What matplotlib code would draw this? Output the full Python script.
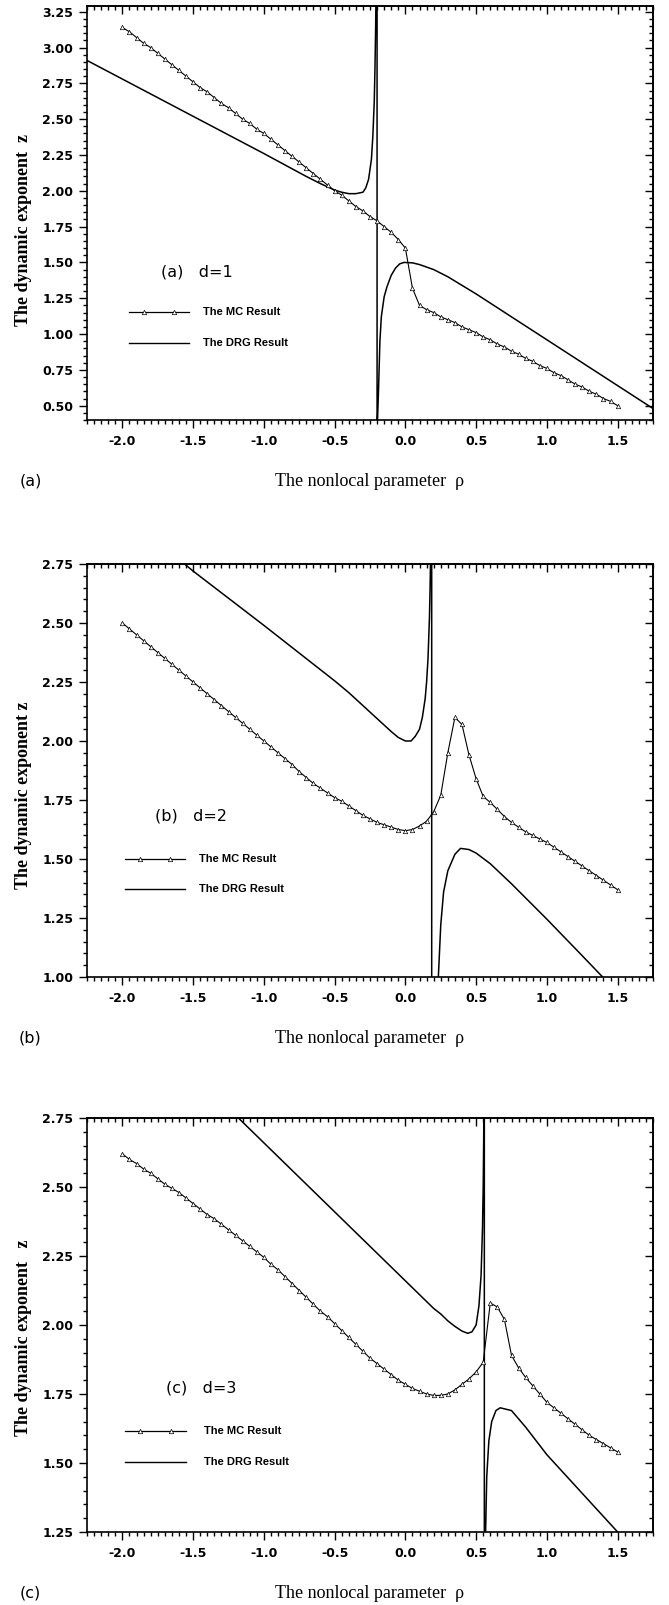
import numpy as np
import matplotlib
matplotlib.use('Agg')
import matplotlib.pyplot as plt
from matplotlib.ticker import MultipleLocator, FormatStrFormatter, NullFormatter

plt.rcParams['axes.unicode_minus'] = False

# nonlocal parameter rho of the MC points
rho = np.round(np.arange(-2.0, 1.5001, 0.05), 2)

# MC results, one value per rho
mc_a = [3.14, 3.11, 3.07, 3.03, 3.00, 2.96, 2.92, 2.88, 2.84, 2.80,
        2.76, 2.72, 2.69, 2.65, 2.61, 2.58, 2.54, 2.50, 2.47, 2.43,
        2.40, 2.36, 2.32, 2.28, 2.24, 2.20, 2.16, 2.12, 2.08, 2.04,
        2.00, 1.97, 1.93, 1.89, 1.86, 1.82, 1.79, 1.75, 1.71, 1.66,
        1.60, 1.32, 1.20, 1.17, 1.15, 1.12, 1.10, 1.08, 1.05, 1.03,
        1.01, 0.98, 0.96, 0.93, 0.91, 0.88, 0.86, 0.83, 0.81, 0.78,
        0.76, 0.73, 0.71, 0.68, 0.65, 0.63, 0.60, 0.58, 0.55, 0.53,
        0.50]
mc_b = [2.50, 2.475, 2.45, 2.425, 2.40, 2.375, 2.35, 2.325, 2.30, 2.275,
        2.25, 2.225, 2.20, 2.175, 2.15, 2.125, 2.10, 2.075, 2.05, 2.025,
        2.00, 1.975, 1.95, 1.925, 1.90, 1.87, 1.845, 1.82, 1.80, 1.78,
        1.76, 1.745, 1.725, 1.705, 1.685, 1.67, 1.655, 1.645, 1.635, 1.625,
        1.62, 1.625, 1.64, 1.66, 1.70, 1.77, 1.95, 2.10, 2.07, 1.94,
        1.84, 1.765, 1.74, 1.71, 1.68, 1.655, 1.635, 1.615, 1.60, 1.585,
        1.57, 1.55, 1.53, 1.51, 1.49, 1.47, 1.45, 1.43, 1.41, 1.39,
        1.37]
mc_c = [2.62, 2.60, 2.585, 2.565, 2.55, 2.53, 2.51, 2.495, 2.48, 2.46,
        2.44, 2.42, 2.40, 2.385, 2.365, 2.345, 2.325, 2.305, 2.285, 2.265,
        2.245, 2.22, 2.20, 2.175, 2.15, 2.125, 2.10, 2.075, 2.05, 2.03,
        2.005, 1.98, 1.955, 1.93, 1.905, 1.88, 1.86, 1.84, 1.82, 1.80,
        1.785, 1.77, 1.76, 1.75, 1.745, 1.745, 1.75, 1.765, 1.785, 1.805,
        1.83, 1.865, 2.08, 2.065, 2.02, 1.89, 1.845, 1.81, 1.78, 1.75,
        1.72, 1.70, 1.68, 1.66, 1.64, 1.62, 1.60, 1.585, 1.57, 1.555,
        1.54]

# DRG results (the curve jumps through its pole)
drg_x_a = [-2.25, -2.0, -1.5, -1.0, -0.7, -0.6, -0.5, -0.45, -0.4, -0.35,
           -0.3, -0.28, -0.26, -0.24, -0.23, -0.22, -0.215, -0.21, -0.206,
           -0.2, -0.2, -0.197, -0.19, -0.18, -0.17, -0.15, -0.13, -0.10, -0.07,
           -0.04, -0.01, 0.05, 0.1, 0.2, 0.3, 0.4, 0.5, 0.75, 1.0, 1.25, 1.5, 1.75]
drg_y_a = [2.91, 2.78, 2.52, 2.26, 2.10, 2.05, 2.005, 1.99, 1.98, 1.98,
           1.99, 2.02, 2.08, 2.22, 2.38, 2.62, 2.85, 3.15, 3.5,
           3.5, 0.2, 0.4, 0.6, 0.95, 1.12, 1.26, 1.33, 1.41, 1.46,
           1.49, 1.50, 1.497, 1.485, 1.45, 1.40, 1.34, 1.28, 1.12, 0.96, 0.80, 0.64, 0.48]
drg_x_b = [-1.60, -1.5, -1.0, -0.5, -0.4, -0.3, -0.2, -0.1, -0.05, 0.0,
           0.04, 0.07, 0.10, 0.12, 0.14, 0.15, 0.16, 0.17, 0.175, 0.18,
           0.186, 0.186, 0.20, 0.22, 0.233, 0.25, 0.27, 0.30, 0.35, 0.39,
           0.45, 0.5, 0.6, 0.75, 1.0, 1.25, 1.41]
drg_y_b = [2.77, 2.72, 2.49, 2.255, 2.205, 2.15, 2.095, 2.04, 2.015, 2.00,
           2.00, 2.02, 2.05, 2.10, 2.18, 2.25, 2.35, 2.52, 2.66, 2.85,
           2.85, 0.8, 0.85, 0.95, 1.0, 1.22, 1.36, 1.45, 1.52, 1.545,
           1.54, 1.525, 1.48, 1.395, 1.245, 1.09, 0.99]
drg_x_c = [-1.20, -1.0, -0.5, 0.0, 0.2, 0.25, 0.3, 0.35, 0.4, 0.44,
           0.47, 0.50, 0.52, 0.535, 0.545, 0.55, 0.553, 0.556, 0.558, 0.558,
           0.567, 0.575, 0.59, 0.61, 0.64, 0.67, 0.75, 0.85, 1.0, 1.25, 1.5]
drg_y_c = [2.76, 2.66, 2.41, 2.16, 2.06, 2.04, 2.015, 1.995, 1.978, 1.97,
           1.975, 2.00, 2.07, 2.18, 2.35, 2.5, 2.65, 2.85, 2.85, 1.1,
           1.25, 1.45, 1.58, 1.65, 1.69, 1.70, 1.69, 1.63, 1.53, 1.39, 1.25]

panels = [
    dict(mc=mc_a, dx=drg_x_a, dy=drg_y_a, ylim=(0.40, 3.29), top=6, bottom=420,
         tag='(a)', note='(a)   d=1', note_xy=(-1.73, 1.43),
         leg_x=(-1.95, -1.53, -1.43), leg_y=(1.155, 0.94),
         ylabel='The dynamic exponent  z', ylab_y=0.46),
    dict(mc=mc_b, dx=drg_x_b, dy=drg_y_b, ylim=(1.0, 2.75), top=564, bottom=977,
         tag='(b)', note='(b)   d=2', note_xy=(-1.77, 1.684),
         leg_x=(-1.98, -1.56, -1.46), leg_y=(1.502, 1.371),
         ylabel='The dynamic exponent z', ylab_y=0.44),
    dict(mc=mc_c, dx=drg_x_c, dy=drg_y_c, ylim=(1.25, 2.75), top=1118, bottom=1532,
         tag='(c)', note='(c)   d=3', note_xy=(-1.69, 1.772),
         leg_x=(-1.98, -1.55, -1.42), leg_y=(1.617, 1.502),
         ylabel='The dynamic exponent   z', ylab_y=0.47),
]

W, H = 669, 1605
fig = plt.figure(figsize=(W / 100, H / 100), dpi=100)

tick_font = dict(family='DejaVu Sans', weight='bold', size=9)
leg_font = dict(family='Liberation Sans', weight='bold', size=8)

for p in panels:
    ax = fig.add_axes([87 / W, 1 - p['bottom'] / H, 566 / W, (p['bottom'] - p['top']) / H])

    ax.plot(p['dx'], p['dy'], color='black', lw=1.1)
    ax.plot(rho, p['mc'], color='black', lw=0.8, marker='^', ms=3.2,
            mfc='white', mec='black', mew=0.5)

    ax.set_xlim(-2.25, 1.75)
    ax.set_ylim(*p['ylim'])

    ax.xaxis.set_major_locator(MultipleLocator(0.5))
    ax.xaxis.set_minor_locator(MultipleLocator(0.05))
    ax.yaxis.set_major_locator(MultipleLocator(0.25))
    ax.yaxis.set_minor_locator(MultipleLocator(0.05))
    ax.xaxis.set_major_formatter(FormatStrFormatter('%.1f'))
    ax.yaxis.set_major_formatter(FormatStrFormatter('%.2f'))
    ax.tick_params(which='both', direction='out', width=1.0, top=False, right=False)
    ax.tick_params(which='major', length=5.8)
    ax.tick_params(which='minor', length=3.2)
    ax.tick_params(axis='x', pad=5)
    ax.tick_params(axis='y', pad=4)
    for lab in ax.get_xticklabels() + ax.get_yticklabels():
        lab.set_fontfamily(tick_font['family'])
        lab.set_fontweight(tick_font['weight'])
        lab.set_fontsize(tick_font['size'])
    for s in ax.spines.values():
        s.set_linewidth(1.2)

    # inward ticks on top and right
    sx = ax.secondary_xaxis('top')
    sx.xaxis.set_major_locator(MultipleLocator(0.5))
    sx.xaxis.set_minor_locator(MultipleLocator(0.05))
    sx.xaxis.set_major_formatter(NullFormatter())
    sx.tick_params(which='both', direction='in', width=1.0)
    sx.tick_params(which='major', length=5.8)
    sx.tick_params(which='minor', length=3.2)
    sx.spines['top'].set_linewidth(1.2)
    sy = ax.secondary_yaxis('right')
    sy.yaxis.set_major_locator(MultipleLocator(0.25))
    sy.yaxis.set_minor_locator(MultipleLocator(0.05))
    sy.yaxis.set_major_formatter(NullFormatter())
    sy.tick_params(which='both', direction='in', width=1.0)
    sy.tick_params(which='major', length=5.8)
    sy.tick_params(which='minor', length=3.2)
    sy.spines['right'].set_linewidth(1.2)

    ax.set_xlabel('The nonlocal parameter  \u03c1', family='Liberation Serif', size=13,
                  va='center')
    ax.xaxis.set_label_coords(0.5, -0.148)
    ax.set_ylabel(p['ylabel'], family='Liberation Serif', weight='bold', size=13,
                  va='center')
    ax.yaxis.set_label_coords(-0.113, p['ylab_y'])

    ax.text(-0.10, -0.148, p['tag'], transform=ax.transAxes, ha='center', va='center',
            family='DejaVu Sans', size=11.5)
    ax.text(p['note_xy'][0], p['note_xy'][1], p['note'], ha='left', va='center',
            family='DejaVu Sans', size=11.5)

    # hand-drawn legend
    x0, x1, xt = p['leg_x']
    y_mc, y_drg = p['leg_y']
    ax.plot([x0, x1], [y_mc, y_mc], color='black', lw=0.9)
    ax.plot([x0 + 0.25 * (x1 - x0), x0 + 0.75 * (x1 - x0)], [y_mc, y_mc], ls='none',
            marker='^', ms=3.2, mfc='white', mec='black', mew=0.5)
    ax.text(xt, y_mc, 'The MC Result', ha='left', va='center', **leg_font)
    ax.plot([x0, x1], [y_drg, y_drg], color='black', lw=1.0)
    ax.text(xt, y_drg, 'The DRG Result', ha='left', va='center', **leg_font)

fig.savefig('out.png', dpi=100)
